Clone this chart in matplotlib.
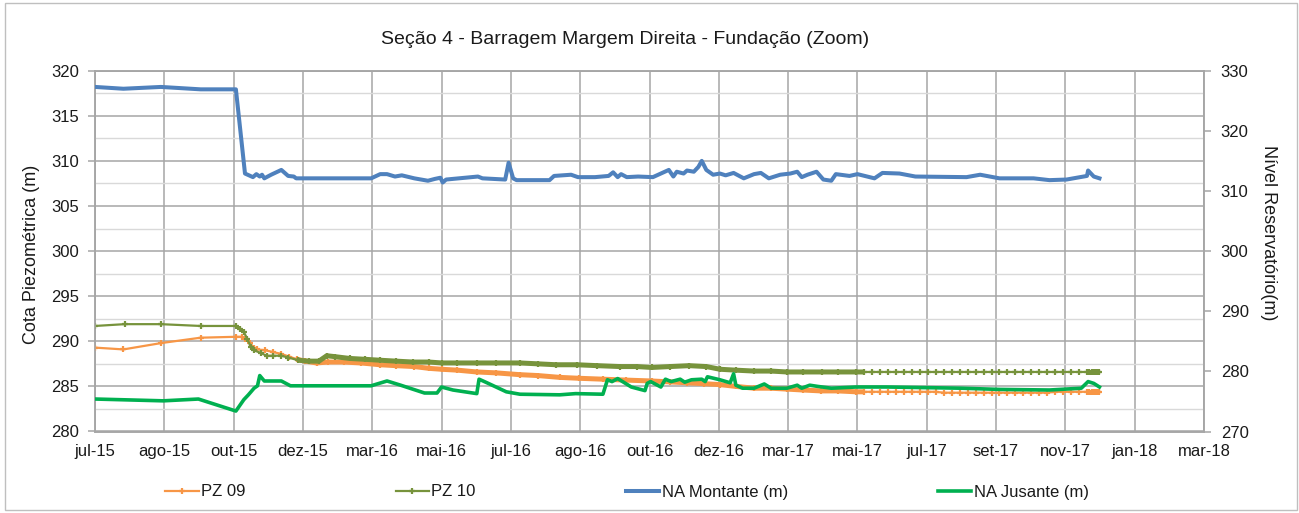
import datetime as dt
import numpy as np
import matplotlib
matplotlib.use("Agg")
import matplotlib.pyplot as plt
from matplotlib.ticker import MultipleLocator, FixedLocator
from matplotlib.lines import Line2D
from matplotlib.patches import Rectangle

plt.rcParams['font.family'] = ['Liberation Sans', 'DejaVu Sans']

# ---------------- data ----------------
TITLE = "Seção 4 - Barragem Margem Direita - Fundação (Zoom)"
YLABEL_LEFT = "Cota Piezométrica (m)"
YLABEL_RIGHT = "Nível Reservatório(m)"
SERIES_NAMES = ["PZ 09", "PZ 10", "NA Montante (m)", "NA Jusante (m)"]

XTICK_DATES = ["2015-07-01", "2015-08-31", "2015-10-31", "2015-12-31", "2016-03-01",
               "2016-05-01", "2016-07-01", "2016-08-31", "2016-10-31", "2016-12-31",
               "2017-03-02", "2017-05-02", "2017-07-02", "2017-09-01", "2017-11-01",
               "2018-01-01", "2018-03-03"]
XTICK_LABELS = ["jul-15", "ago-15", "out-15", "dez-15", "mar-16", "mai-16", "jul-16",
                "ago-16", "out-16", "dez-16", "mar-17", "mai-17", "jul-17", "set-17",
                "nov-17", "jan-18", "mar-18"]

# PZ 09 (left axis)
pz09_dates = ["2015-07-01", "2015-07-26", "2015-08-28", "2015-10-02", "2015-11-02",
              "2015-11-07", "2015-11-10", "2015-11-14", "2015-11-18", "2015-11-21",
              "2015-11-28", "2015-12-05", "2015-12-12", "2015-12-19", "2015-12-26",
              "2016-01-02", "2016-01-12", "2016-01-22", "2016-02-05", "2016-02-20",
              "2016-03-08", "2016-03-22", "2016-04-07", "2016-04-20", "2016-05-01",
              "2016-05-15", "2016-06-01", "2016-06-18", "2016-07-09", "2016-07-25",
              "2016-08-13", "2016-08-30", "2016-09-20", "2016-10-10", "2016-11-02",
              "2016-11-18", "2016-12-03", "2016-12-18", "2017-01-01", "2017-01-15",
              "2017-01-31", "2017-02-15", "2017-03-01", "2017-03-15", "2017-03-31",
              "2017-04-15", "2017-05-01",
              "2017-05-08", "2017-05-15", "2017-05-22", "2017-05-29", "2017-06-05",
              "2017-06-12", "2017-06-19", "2017-06-26", "2017-07-03", "2017-07-10",
              "2017-07-17", "2017-07-24", "2017-07-31", "2017-08-07", "2017-08-14",
              "2017-08-21", "2017-08-28", "2017-09-04", "2017-09-11", "2017-09-18",
              "2017-09-25", "2017-10-02", "2017-10-09", "2017-10-16", "2017-10-23",
              "2017-10-30", "2017-11-06", "2017-11-13", "2017-11-20",
              "2017-11-22", "2017-11-24", "2017-11-26", "2017-11-28", "2017-11-30",
              "2017-12-01"]
pz09_values = [289.3, 289.1, 289.8, 290.4, 290.5,
               290.5, 290.3, 289.8, 289.3, 289.1,
               289.0, 288.8, 288.6, 288.3, 288.0,
               287.8, 287.6, 287.7, 287.7, 287.6,
               287.4, 287.3, 287.2, 287.0, 286.9,
               286.8, 286.6, 286.5, 286.3, 286.2,
               286.0, 285.9, 285.8, 285.7, 285.6,
               285.5, 285.4, 285.3, 285.2, 285.0,
               284.8, 284.8, 284.7, 284.6, 284.5,
               284.5, 284.4,
               284.4, 284.4, 284.4, 284.4, 284.4,
               284.4, 284.4, 284.4, 284.4, 284.4,
               284.3, 284.3, 284.3, 284.3, 284.3,
               284.3, 284.3, 284.3, 284.3, 284.3,
               284.3, 284.3, 284.3, 284.3, 284.4,
               284.4, 284.4, 284.4, 284.4,
               284.4, 284.4, 284.4, 284.4, 284.4,
               284.4]

# PZ 10 (left axis)
pz10_dates = ["2015-07-01", "2015-07-27", "2015-08-28", "2015-10-02", "2015-11-02",
              "2015-11-06", "2015-11-09", "2015-11-12", "2015-11-15", "2015-11-18",
              "2015-11-24", "2015-11-29", "2015-12-05", "2015-12-12", "2015-12-18",
              "2015-12-27", "2016-01-05", "2016-01-14", "2016-01-21", "2016-01-28",
              "2016-02-10", "2016-02-24", "2016-03-08", "2016-03-22", "2016-04-06",
              "2016-04-20", "2016-05-01", "2016-05-15", "2016-06-01", "2016-06-18",
              "2016-07-09", "2016-07-25", "2016-08-10", "2016-08-28", "2016-09-15",
              "2016-10-05", "2016-10-20", "2016-11-02", "2016-11-18", "2016-12-05",
              "2016-12-20", "2017-01-01", "2017-01-15", "2017-01-31", "2017-02-15",
              "2017-03-01", "2017-03-15", "2017-04-01", "2017-04-15", "2017-05-01",
              "2017-05-08", "2017-05-15", "2017-05-22", "2017-05-29", "2017-06-05",
              "2017-06-12", "2017-06-19", "2017-06-26", "2017-07-03", "2017-07-10",
              "2017-07-17", "2017-07-24", "2017-07-31", "2017-08-07", "2017-08-14",
              "2017-08-21", "2017-08-28", "2017-09-04", "2017-09-11", "2017-09-18",
              "2017-09-25", "2017-10-02", "2017-10-09", "2017-10-16", "2017-10-23",
              "2017-10-30", "2017-11-06", "2017-11-13", "2017-11-20",
              "2017-11-22", "2017-11-24", "2017-11-26", "2017-11-28", "2017-11-30",
              "2017-12-01"]
pz10_values = [291.7, 291.9, 291.9, 291.7, 291.7,
               291.4, 291.0, 290.3, 289.4, 289.0,
               288.7, 288.4, 288.4, 288.4, 288.2,
               287.9, 287.8, 287.8, 288.4, 288.3,
               288.1, 288.0, 287.9, 287.8, 287.7,
               287.7, 287.6, 287.6, 287.6, 287.6,
               287.6, 287.5, 287.4, 287.4, 287.3,
               287.2, 287.2, 287.1, 287.2, 287.3,
               287.2, 286.9, 286.8, 286.7, 286.7,
               286.6, 286.6, 286.6, 286.6, 286.6,
               286.6, 286.6, 286.6, 286.6, 286.6,
               286.6, 286.6, 286.6, 286.6, 286.6,
               286.6, 286.6, 286.6, 286.6, 286.6,
               286.6, 286.6, 286.6, 286.6, 286.6,
               286.6, 286.6, 286.6, 286.6, 286.6,
               286.6, 286.6, 286.6, 286.6,
               286.6, 286.6, 286.6, 286.6, 286.6,
               286.6]

# NA Montante (right axis)
mont_dates = ["2015-07-01", "2015-07-26", "2015-08-28", "2015-10-02", "2015-11-02",
              "2015-11-10", "2015-11-17", "2015-11-20", "2015-11-23", "2015-11-25",
              "2015-11-27", "2015-12-03", "2015-12-12", "2015-12-18", "2015-12-23",
              "2015-12-25", "2016-02-29", "2016-03-08", "2016-03-14", "2016-03-21",
              "2016-03-27", "2016-04-07", "2016-04-19", "2016-04-25", "2016-04-30",
              "2016-05-02", "2016-05-05", "2016-06-02", "2016-06-06", "2016-06-26",
              "2016-06-29", "2016-07-03", "2016-07-06", "2016-08-04", "2016-08-08",
              "2016-08-23", "2016-08-29", "2016-09-13", "2016-09-25", "2016-09-29",
              "2016-10-03", "2016-10-06", "2016-10-11", "2016-10-21", "2016-11-03",
              "2016-11-10", "2016-11-17", "2016-11-21", "2016-11-24", "2016-11-30",
              "2016-12-03", "2016-12-09", "2016-12-13", "2016-12-16", "2016-12-20",
              "2016-12-26", "2017-01-01", "2017-01-06", "2017-01-13", "2017-01-22",
              "2017-01-31", "2017-02-06", "2017-02-13", "2017-02-23", "2017-03-04",
              "2017-03-10", "2017-03-14", "2017-03-19", "2017-03-27", "2017-04-02",
              "2017-04-09", "2017-04-13", "2017-04-25", "2017-05-02", "2017-05-17",
              "2017-05-24", "2017-06-08", "2017-06-22", "2017-08-06", "2017-08-18",
              "2017-09-04", "2017-10-04", "2017-10-18", "2017-11-02", "2017-11-20",
              "2017-11-21", "2017-11-26", "2017-12-01"]
mont_values = [327.3, 327.0, 327.3, 326.9, 326.9,
               312.9, 312.3, 312.8, 312.4, 312.7,
               312.1, 312.7, 313.5, 312.5, 312.4,
               312.1, 312.1, 312.8, 312.8, 312.4,
               312.6, 312.1, 311.7, 312.0, 312.2,
               311.4, 311.9, 312.4, 312.1, 311.9,
               314.7, 312.1, 311.8, 311.8, 312.5,
               312.7, 312.3, 312.3, 312.5, 313.1,
               312.3, 312.8, 312.3, 312.4, 312.3,
               312.9, 313.5, 312.4, 313.2, 312.9,
               313.4, 313.2, 314.0, 315.0, 313.5,
               312.7, 312.9, 312.6, 313.0, 312.1,
               312.8, 313.0, 312.1, 312.7, 312.9,
               313.2, 312.3, 312.7, 313.2, 311.9,
               311.7, 312.8, 312.5, 312.8, 312.1,
               313.0, 312.9, 312.4, 312.3, 312.7,
               312.1, 312.1, 311.8, 311.9, 312.5,
               313.4, 312.4, 312.1]

# NA Jusante (right axis)
jus_dates = ["2015-07-01", "2015-08-30", "2015-09-30", "2015-11-02", "2015-11-09",
             "2015-11-13", "2015-11-18", "2015-11-21", "2015-11-23", "2015-11-27",
             "2015-12-12", "2015-12-20", "2016-02-29", "2016-03-14", "2016-03-26",
             "2016-04-16", "2016-04-27", "2016-05-01", "2016-05-11", "2016-06-01",
             "2016-06-03", "2016-06-10", "2016-06-27", "2016-07-09", "2016-08-13",
             "2016-08-27", "2016-09-20", "2016-09-24", "2016-09-28", "2016-10-03",
             "2016-10-15", "2016-10-27", "2016-10-29", "2016-11-01", "2016-11-10",
             "2016-11-14", "2016-11-19", "2016-11-27", "2016-12-01", "2016-12-07",
             "2016-12-16", "2016-12-19", "2016-12-21", "2017-01-01", "2017-01-10",
             "2017-01-13", "2017-01-15", "2017-01-21", "2017-01-31", "2017-02-09",
             "2017-02-15", "2017-03-01", "2017-03-10", "2017-03-14", "2017-03-21",
             "2017-03-28", "2017-04-09", "2017-05-01", "2017-05-28", "2017-08-01",
             "2017-09-04", "2017-10-18", "2017-11-15", "2017-11-21", "2017-11-26",
             "2017-12-01"]
jus_values = [275.4, 275.1, 275.4, 273.4, 275.3,
              276.1, 277.2, 277.6, 279.3, 278.4,
              278.4, 277.6, 277.6, 278.4, 277.7,
              276.4, 276.4, 277.4, 276.9, 276.3,
              278.7, 278.1, 276.6, 276.2, 276.1,
              276.3, 276.2, 278.6, 278.3, 278.8,
              277.4, 276.8, 278.0, 278.3, 277.4,
              278.7, 278.3, 278.7, 278.2, 278.6,
              278.7, 278.3, 279.1, 278.6, 278.1,
              279.6, 277.7, 277.2, 277.2, 277.9,
              277.2, 277.2, 277.7, 277.2, 277.7,
              277.5, 277.2, 277.4, 277.4, 277.2,
              277.0, 276.9, 277.2, 278.3, 278.0,
              277.4]

# ---------------- styling ----------------
C_PZ09 = "#F79646"
C_PZ10 = "#77933C"
C_MONT = "#4F81BD"
C_JUS = "#00B050"
GRID_MAJOR = "#A6A6A6"
GRID_MINOR = "#D9D9D9"
TXT = "#1A1A1A"

def to_dt(lst):
    return np.array(lst, dtype="datetime64[D]").astype("O")

W, H = 1299, 513
fig = plt.figure(figsize=(W / 100, H / 100), dpi=100)
fig.patch.set_facecolor("white")

left, right, top, bottom = 95, 1204, 70.7, 431.5
ax = fig.add_axes([left / W, 1 - bottom / H, (right - left) / W, (bottom - top) / H])
ax2 = ax.twinx()

# dense periods shown as thicker bands (overlapping daily markers in original)
dense_ranges = [("2015-12-20", "2017-05-08"), ("2017-11-20", "2017-12-01")]

for dates, vals, col in [(pz09_dates, pz09_values, C_PZ09), (pz10_dates, pz10_values, C_PZ10)]:
    d = to_dt(dates)
    v = np.array(vals)
    ax.plot(d, v, color=col, lw=1.6, marker="+", ms=5, mew=1.6, zorder=3)
    dd = np.array(dates, dtype="datetime64[D]")
    for a, b in dense_ranges:
        m = (dd >= np.datetime64(a)) & (dd <= np.datetime64(b))
        ax.plot(d[m], v[m], color=col, lw=3.6, solid_capstyle="butt", zorder=3)

ax2.plot(to_dt(mont_dates), mont_values, color=C_MONT, lw=2.9, zorder=4)
ax2.plot(to_dt(jus_dates), jus_values, color=C_JUS, lw=2.6, zorder=4)

# axes limits & ticks
xt = to_dt(XTICK_DATES)
ax.set_xlim(xt[0], xt[-1])
ax.xaxis.set_major_locator(FixedLocator(matplotlib.dates.date2num(xt)))
ax.set_xticklabels(XTICK_LABELS)
ax.set_ylim(280, 320)
ax.yaxis.set_major_locator(MultipleLocator(5))
ax.yaxis.set_minor_locator(MultipleLocator(2.5))
ax2.set_ylim(270, 330)
ax2.yaxis.set_major_locator(MultipleLocator(10))

ax.set_axisbelow(True)
ax.grid(which="major", axis="both", color=GRID_MAJOR, lw=1.1)
ax.grid(which="minor", axis="y", color=GRID_MINOR, lw=1.0)

for a in (ax, ax2):
    for s in a.spines.values():
        s.set_color(GRID_MAJOR)
        s.set_linewidth(1.1)

ax.tick_params(axis="y", which="major", direction="out", length=5, width=1.1,
               color=GRID_MAJOR, pad=6.5, labelsize=12, labelcolor=TXT)
ax.tick_params(axis="y", which="minor", length=0)
ax.tick_params(axis="x", which="major", length=0, pad=9, labelsize=12, labelcolor=TXT)
ax2.tick_params(axis="y", which="major", direction="out", length=5, width=1.1,
                color=GRID_MAJOR, pad=7, labelsize=12, labelcolor=TXT)

# texts
fig.text(625 / W, 1 - 40 / H, TITLE, ha="center", va="center", fontsize=14, color=TXT)
fig.text(32 / W, 1 - 254 / H, YLABEL_LEFT, rotation=90, ha="center", va="center",
         fontsize=13, color=TXT)
fig.text(1269 / W, 1 - 233 / H, YLABEL_RIGHT, rotation=-90, ha="center", va="center",
         fontsize=13, color=TXT)

# legend
handles = [
    Line2D([], [], color=C_PZ09, lw=1.6, marker="+", ms=5, mew=1.6),
    Line2D([], [], color=C_PZ10, lw=1.6, marker="+", ms=5, mew=1.6),
    Line2D([], [], color=C_MONT, lw=2.9),
    Line2D([], [], color=C_JUS, lw=2.6),
]
fig.legend(handles, SERIES_NAMES, loc="center", bbox_to_anchor=(627 / W, 1 - 492 / H),
           ncol=4, frameon=False, fontsize=12, handlelength=2.0, handletextpad=0.15,
           columnspacing=9.0, labelcolor=TXT)

# chart border
fig.add_artist(Rectangle((5 / W, 3 / H), (1297 - 5) / W, (510 - 3) / H,
                         transform=fig.transFigure, fill=False, ec="#BFBFBF", lw=1.0))

fig.savefig("out.png", dpi=100)
